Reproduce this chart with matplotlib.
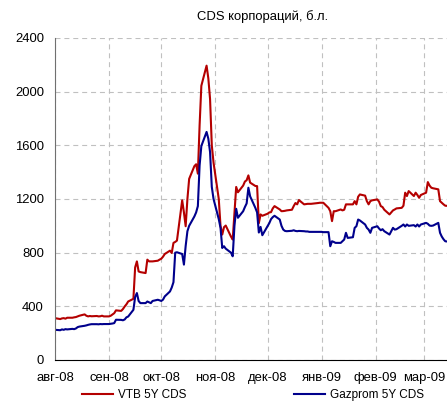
#!/usr/bin/env python3

import datetime as dt
import matplotlib
matplotlib.use('Agg')
import matplotlib.pyplot as plt
import matplotlib.dates as mdates
import pandas as pd

# trading days, 1 Aug 2008 .. 17 Mar 2009
dates = pd.bdate_range('2008-08-01', '2009-03-17')

vtb = [
  312,
  305, 310, 312, 308, 315,
  315, 318, 320, 325, 330,
  340, 330, 325, 328, 326,
  328, 325, 326, 330, 325,
  325, 330, 340, 349, 370,
  366, 380, 399, 415, 436,
  456, 690, 735, 660, 655,
  648, 748, 735, 735, 735,
  740, 748, 755, 770, 790,
  815, 798, 873, 880, 890,
  1190, 1100, 997, 1200, 1350,
  1445, 1459, 1389, 1750, 2044,
  2194, 2100, 1945, 1600, 1471,
  1200, 1000, 935, 990, 1002,
  920, 898, 1100, 1290, 1250,
  1300, 1330, 1340, 1376, 1322,
  1297, 1296, 1020, 1085, 1075,
  1090, 1100, 1102, 1130, 1147,
  1122, 1109, 1110, 1112, 1115,
  1120, 1147, 1170, 1160, 1192,
  1160, 1162, 1164, 1164, 1164,
  1168, 1170, 1172, 1172, 1172,
  1134, 1109, 1035, 1109, 1109,
  1122, 1115, 1120, 1160, 1160,
  1160, 1184, 1160, 1217, 1234,
  1225, 1184, 1160, 1184, 1190,
  1197, 1180, 1147, 1140, 1120,
  1085, 1100, 1115, 1122, 1130,
  1134, 1150, 1247, 1222, 1259,
  1222, 1247, 1230, 1209, 1230,
  1247, 1326, 1300, 1284, 1280,
  1272, 1184, 1172, 1160, 1150,
  1147, 1140,
]

gazprom = [
  225,
  222, 228, 225, 230, 228,
  232, 230, 235, 245, 249,
  255, 258, 262, 265, 267,
  267, 266, 268, 267, 268,
  268, 270, 272, 275, 300,
  299, 296, 302, 318, 324,
  374, 470, 499, 440, 424,
  424, 436, 430, 424, 440,
  449, 445, 440, 450, 474,
  511, 540, 580, 800, 803,
  790, 711, 850, 960, 1000,
  1070, 1100, 1147, 1450, 1595,
  1700, 1650, 1550, 1290, 1200,
  1050, 985, 835, 848, 830,
  800, 773, 1000, 1127, 1060,
  1109, 1140, 1167, 1284, 1220,
  1134, 1100, 950, 992, 930,
  997, 1020, 1050, 1065, 1075,
  1047, 1000, 972, 962, 960,
  963, 967, 962, 960, 962,
  960, 958, 958, 955, 955,
  955, 955, 955, 955, 953,
  953, 848, 885, 880, 873,
  873, 885, 898, 948, 910,
  915, 985, 997, 1047, 1040,
  1010, 985, 972, 948, 985,
  997, 980, 967, 975, 960,
  935, 960, 985, 972, 975,
  1000, 1010, 995, 1010, 1000,
  1005, 995, 1010, 995, 1010,
  1022, 1015, 1002, 1000, 1002,
  1022, 948, 920, 900, 885,
  880, 875,
]

month_ticks = ['2008-08-01', '2008-09-01', '2008-10-01', '2008-11-01',
               '2008-12-01', '2009-01-01', '2009-02-01', '2009-03-01']
month_labels = ['авг-08', 'сен-08', 'окт-08', 'ноя-08',
                'дек-08', 'янв-09', 'фев-09', 'мар-09']
y_ticks = [0, 400, 800, 1200, 1600, 2000, 2400]

title = 'CDS корпораций, б.л.'
names = ['VTB 5Y CDS', 'Gazprom 5Y CDS']


def main():
  plt.rcParams['font.family'] = ['Liberation Sans', 'DejaVu Sans']
  fs = 9.4

  fig = plt.figure(figsize=(4.47, 4.03), dpi=100)
  # axes run past the right edge of the picture, as in the original
  ax = fig.add_axes([55 / 447, 43 / 403, 1 - 55 / 447, 322 / 403])

  ax.plot(dates, vtb, color='#b40000', lw=1.5, label=names[0])
  ax.plot(dates, gazprom, color='#00008c', lw=1.5, label=names[1])

  ax.set_ylim(0, 2400)
  ax.set_yticks(y_ticks)
  ax.set_xlim(dt.date(2008, 8, 1), dt.date(2008, 8, 1) + dt.timedelta(days=225))
  ax.set_xticks([mdates.datestr2num(d) for d in month_ticks])
  ax.set_xticklabels(month_labels)

  ax.tick_params(axis='x', length=0, pad=8.5, labelsize=fs)
  ax.tick_params(axis='y', length=0, pad=8, labelsize=fs)

  ax.grid(True, color='#c0c0c0', lw=0.8, linestyle=(0, (4.5, 3.5)))
  ax.set_axisbelow(True)
  for s in ['top', 'right']:
    ax.spines[s].set_visible(False)
  ax.spines['left'].set_color('#707070')
  ax.spines['left'].set_linewidth(0.8)
  ax.spines['bottom'].set_color('black')
  ax.spines['bottom'].set_linewidth(0.8)

  fig.text(263 / 447, 1 - 17 / 403, title, ha='center', va='center',
           fontsize=fs)

  fig.legend(loc='center', bbox_to_anchor=(253 / 447, 8 / 403),
             ncol=2, frameon=False, fontsize=8.5, borderpad=0,
             handlelength=2.6, handletextpad=0.45, columnspacing=9.1)

  fig.savefig('out.png', dpi=100)


if __name__ == '__main__':
  main()
